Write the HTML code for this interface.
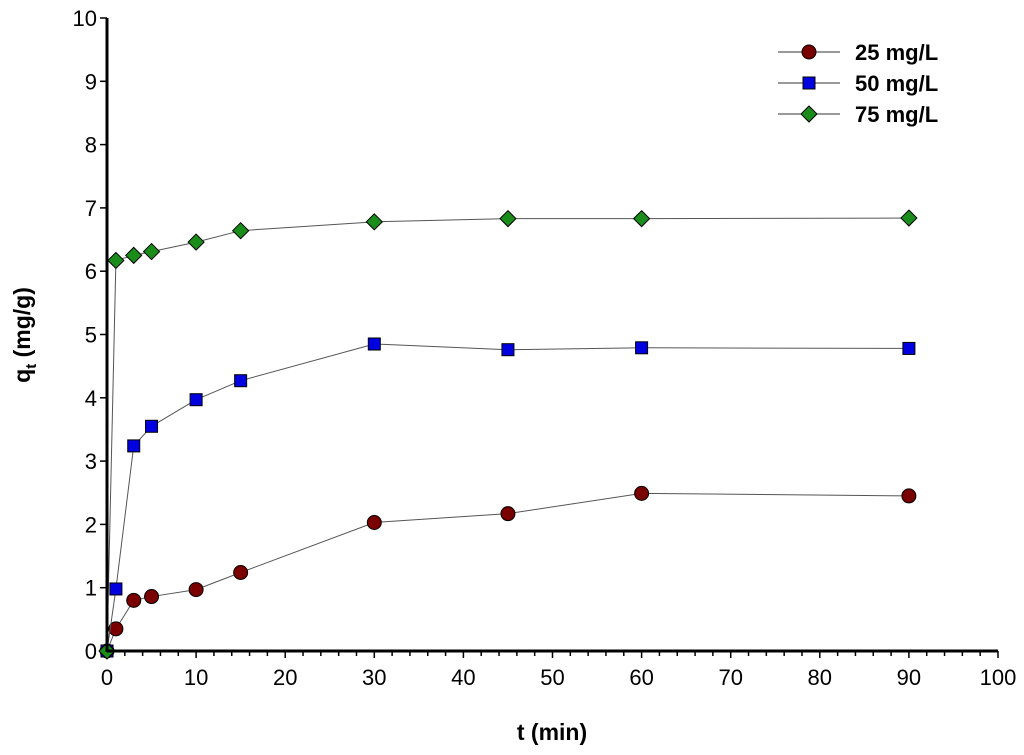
<!DOCTYPE html>
<html><head><meta charset="utf-8"><style>
body{margin:0;background:#fff;}
svg text{font-family:"Liberation Sans",Arial,sans-serif;}
</style></head><body>
<svg id="chart" width="1024" height="750" xmlns="http://www.w3.org/2000/svg"></svg>
<script>
const times = [0,1,3,5,10,15,30,45,60,90];
const series25 = [0,0.35,0.80,0.86,0.97,1.24,2.03,2.17,2.49,2.45];
const series50 = [0,0.98,3.24,3.55,3.97,4.27,4.85,4.76,4.79,4.78];
const series75 = [0,6.17,6.25,6.31,6.46,6.64,6.78,6.83,6.83,6.84];
const xTicks = [0,10,20,30,40,50,60,70,80,90,100];
const yTicks = [0,1,2,3,4,5,6,7,8,9,10];
const seriesNames = ["25 mg/L","50 mg/L","75 mg/L"];

const NS="http://www.w3.org/2000/svg";
const svg=document.getElementById('chart');
const X0=107,X1=998,Y0=651,Y1=18;
const xs=v=>X0+(v-0)/(100-0)*(X1-X0);
const ys=v=>Y0-(v-0)/(10-0)*(Y0-Y1);
function mk(tag,attrs,parent){const e=document.createElementNS(NS,tag);for(const k in attrs)e.setAttribute(k,attrs[k]);(parent||svg).appendChild(e);return e;}

for(let v=0;v<=100;v+=2){
  const t=mk('line',{x1:xs(v),x2:xs(v),y1:Y0,y2:Y0+(v%10===0?7:5),stroke:'#000','stroke-width':1.5});
  
  
}
xTicks.forEach(v=>{
  const t=mk('text',{x:xs(v),y:Y0+34,'text-anchor':'middle','font-size':22,fill:'#000'});
  t.textContent=v;
  
  
});
yTicks.forEach(v=>{
  const l=mk('line',{x1:X0-7,x2:X0,y1:ys(v),y2:ys(v),stroke:'#000','stroke-width':1.5});
  
  
  const t=mk('text',{x:X0-10,y:ys(v)+8,'text-anchor':'end','font-size':22,fill:'#000'});
  t.textContent=v;
  
  
});

const colors=['#7a0000','#0000e0','#1a8c1a'];
const shapes=['circle','square','diamond'];
function marker(shape,cx,cy,color,g){
  let e;
  if(shape==='circle') e=mk('circle',{cx,cy,r:7,fill:color,stroke:'#000','stroke-width':1},g);
  else if(shape==='square') e=mk('rect',{x:cx-6,y:cy-6,width:12,height:12,fill:color,stroke:'#000','stroke-width':1},g);
  else e=mk('polygon',{points:`${cx},${cy-8} ${cx+8},${cy} ${cx},${cy+8} ${cx-8},${cy}`,fill:color,stroke:'#000','stroke-width':1},g);
  return e;
}
[series25,series50,series75].forEach((s,i)=>{
  const g=mk('g',{});
  
  
  const p=mk('polyline',{points:times.map((t,j)=>xs(t)+','+ys(s[j])).join(' '),fill:'none',stroke:'#555','stroke-width':1},g);
  
  
  times.forEach((t,j)=>{
    const m=marker(shapes[i],xs(t),ys(s[j]),colors[i],g);
    
    
  });
});

const ax=mk('line',{x1:X0,x2:X1,y1:Y0,y2:Y0,stroke:'#000','stroke-width':3});


const ay=mk('line',{x1:X0,x2:X0,y1:Y0+1,y2:Y1,stroke:'#000','stroke-width':3});



const lg=mk('g',{});


seriesNames.forEach((n,i)=>{
  const y=52+i*31;
  const e=mk('g',{},lg);
  
  
  mk('line',{x1:778,x2:840,y1:y,y2:y,stroke:'#333','stroke-width':1},e);
  marker(shapes[i],809,y,colors[i],e);
  const t=mk('text',{x:855,y:y+8,'font-size':22,'font-weight':'bold',fill:'#000'},e);
  t.textContent=n;
});

const xt=mk('text',{x:552,y:740,'text-anchor':'middle','font-size':23,'font-weight':'bold',fill:'#000'});
xt.textContent='t (min)';


const yt=mk('text',{transform:'translate(30,335) rotate(-90)','text-anchor':'middle','font-size':23,'font-weight':'bold',fill:'#000'});
yt.innerHTML='q<tspan font-size="15" dy="6">t</tspan><tspan dy="-6"> (mg/g)</tspan>';


</script>
</body></html>
